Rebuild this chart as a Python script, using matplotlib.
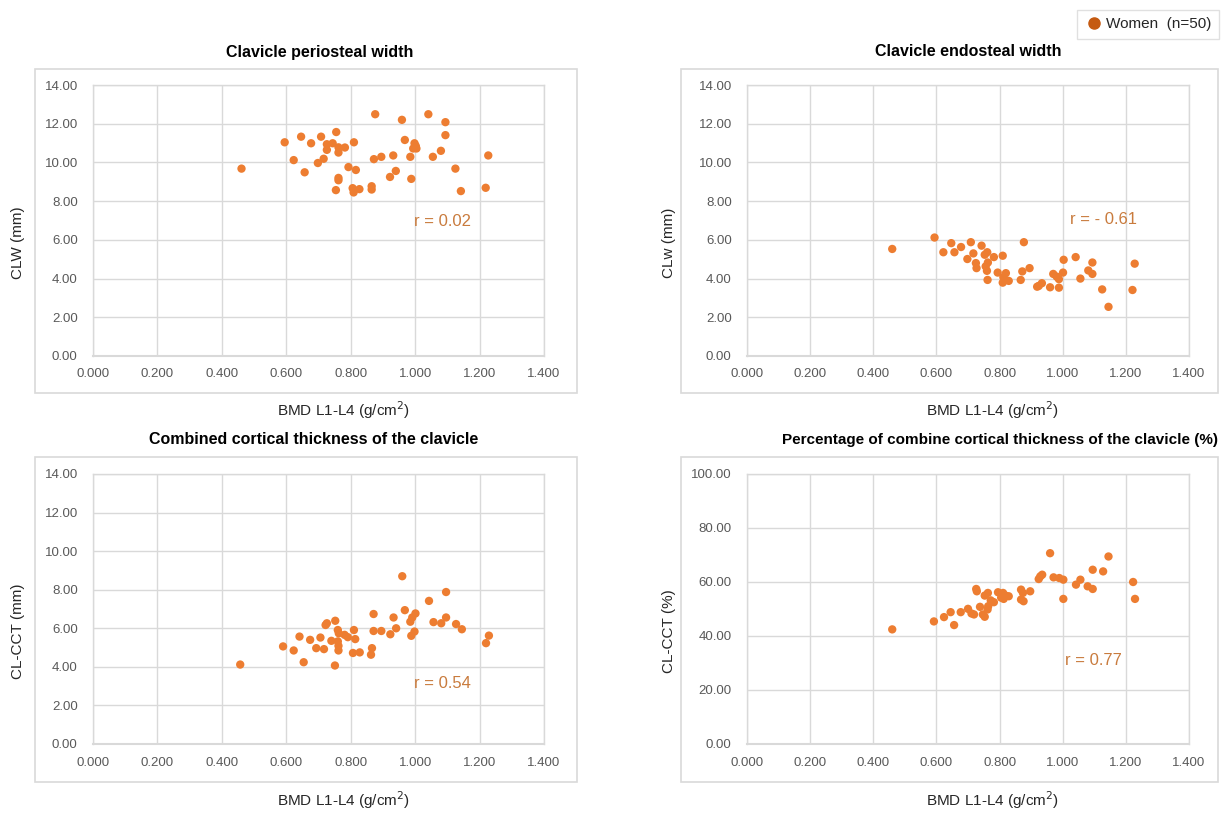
import matplotlib.pyplot as plt
from matplotlib.lines import Line2D
from matplotlib.patches import Rectangle

plt.rcParams['font.family'] = ['Liberation Sans', 'DejaVu Sans']

# BMD L1-L4 (g/cm2) vs clavicle measures
bmd_clw = [0.461, 0.595, 0.646, 0.623, 0.677, 0.657, 0.708, 0.698, 0.716, 0.726,
           0.726, 0.744, 0.755, 0.762, 0.762, 0.782, 0.810, 0.793, 0.816, 0.762,
           0.762, 0.754, 0.806, 0.809, 0.827, 0.865, 0.865, 0.876, 0.872, 0.895,
           0.922, 0.940, 0.932, 0.959, 0.968, 0.985, 0.988, 0.998, 0.994, 1.004,
           1.041, 1.055, 1.080, 1.094, 1.094, 1.125, 1.142, 1.219, 1.227, 1.002]
clw = [9.68, 11.04, 11.33, 10.12, 10.99, 9.49, 11.33, 9.97, 10.19, 10.94,
       10.65, 10.99, 11.57, 10.78, 10.51, 10.77, 11.04, 9.76, 9.61, 9.20,
       9.08, 8.57, 8.67, 8.45, 8.62, 8.77, 8.60, 12.49, 10.17, 10.29,
       9.25, 9.56, 10.36, 12.20, 11.16, 10.29, 9.15, 10.99, 10.72, 10.72,
       12.49, 10.29, 10.60, 12.08, 11.41, 9.68, 8.52, 8.69, 10.36, 10.85]

bmd_clew = [0.460, 0.594, 0.622, 0.647, 0.657, 0.678, 0.698, 0.709, 0.717, 0.725,
            0.727, 0.743, 0.753, 0.761, 0.756, 0.763, 0.760, 0.762, 0.782, 0.794,
            0.810, 0.812, 0.820, 0.810, 0.829, 0.867, 0.872, 0.877, 0.895, 0.924,
            0.934, 0.960, 0.970, 0.988, 0.988, 1.001, 1.003, 1.041, 1.056, 1.081,
            1.094, 1.094, 1.125, 1.145, 1.221, 1.228, 0.919, 0.981, 0.815]
clew = [5.53, 6.12, 5.36, 5.83, 5.36, 5.63, 5.01, 5.88, 5.30, 4.80,
        4.54, 5.70, 5.23, 5.36, 4.63, 4.83, 4.40, 3.93, 5.11, 4.31,
        5.18, 4.07, 4.28, 3.79, 3.88, 3.93, 4.37, 5.88, 4.54, 3.62,
        3.76, 3.55, 4.24, 3.97, 3.53, 4.31, 4.97, 5.11, 4.00, 4.42,
        4.83, 4.24, 3.44, 2.54, 3.41, 4.77, 3.58, 4.10, 3.90]

bmd_cct = [0.457, 0.590, 0.623, 0.641, 0.654, 0.674, 0.693, 0.706, 0.717, 0.722,
           0.726, 0.752, 0.740, 0.760, 0.763, 0.760, 0.762, 0.762, 0.751, 0.781,
           0.791, 0.810, 0.814, 0.807, 0.828, 0.866, 0.863, 0.871, 0.871, 0.895,
           0.923, 0.933, 0.941, 0.960, 0.968, 0.985, 0.991, 1.001, 0.988, 0.998,
           1.043, 1.057, 1.081, 1.096, 1.096, 1.127, 1.145, 1.220, 1.229]
cct = [4.12, 5.06, 4.85, 5.57, 4.24, 5.40, 4.97, 5.52, 4.92, 6.17,
       6.26, 6.39, 5.35, 5.91, 5.74, 5.32, 5.09, 4.85, 4.07, 5.66,
       5.54, 5.91, 5.44, 4.72, 4.75, 4.97, 4.63, 6.74, 5.86, 5.86,
       5.69, 6.56, 6.00, 8.70, 6.94, 6.34, 6.56, 6.77, 5.61, 5.83,
       7.42, 6.32, 6.26, 7.88, 6.56, 6.22, 5.95, 5.23, 5.62]

bmd_pct = [0.460, 0.592, 0.624, 0.645, 0.656, 0.677, 0.700, 0.711, 0.719, 0.726,
           0.728, 0.747, 0.753, 0.753, 0.763, 0.764, 0.762, 0.782, 0.795, 0.811,
           0.813, 0.819, 0.829, 0.868, 0.874, 0.868, 0.876, 0.897, 0.924, 0.935,
           0.929, 0.960, 0.971, 0.989, 1.002, 1.002, 1.042, 1.056, 1.079, 1.095,
           1.095, 1.128, 1.145, 1.223, 1.229, 0.805, 0.772, 0.738]
pct = [42.45, 45.40, 47.00, 48.83, 44.05, 48.83, 50.06, 48.34, 47.98, 57.42,
       56.56, 47.98, 47.12, 54.97, 55.95, 51.04, 49.82, 52.52, 56.20, 55.95,
       53.74, 54.97, 54.72, 57.18, 55.95, 53.50, 52.88, 56.56, 61.10, 62.70,
       62.09, 70.67, 61.72, 61.47, 60.86, 53.74, 59.02, 60.86, 58.40, 57.42,
       64.54, 63.93, 69.45, 60.00, 53.74, 54.20, 53.20, 50.80]

titles = ['Clavicle periosteal width', 'Clavicle endosteal width',
          'Combined cortical thickness of the clavicle',
          'Percentage of combine cortical thickness of the clavicle (%)']
ylabels = ['CLW (mm)', 'CLw (mm)', 'CL-CCT (mm)', 'CL-CCT (%)']
r_texts = ['r = 0.02', 'r = - 0.61', 'r = 0.54', 'r = 0.77']
xticks = [0.0, 0.2, 0.4, 0.6, 0.8, 1.0, 1.2, 1.4]

W, H = 1227, 814
fig = plt.figure(figsize=(W / 100, H / 100), dpi=100)

def rect(l, t, r, b):
    return [l / W, 1 - b / H, (r - l) / W, (b - t) / H]

dot = '#ED7D31'
grid = '#D9D9D9'
tick_col = '#595959'

panels = [
    # plot area, chart box, title (x, y), r-text position
    ((93, 85, 544, 356), (35, 69, 577, 393), (320, 52), (0.998, 6.7)),
    ((747, 85, 1189, 356), (681, 69, 1218, 393), (968, 52), (1.023, 6.8)),
    ((93, 474, 544, 744), (35, 457, 577, 782), (314, 440), (0.998, 2.9)),
    ((747, 474, 1189, 744), (681, 457, 1218, 782), (1000, 440), (1.007, 29.3)),
]
series = [(bmd_clw, clw), (bmd_clew, clew), (bmd_cct, cct), (bmd_pct, pct)]

for i, (area, box, tpos, rpos) in enumerate(panels):
    # light frame around each chart
    fig.patches.append(Rectangle((box[0] / W, 1 - box[3] / H), (box[2] - box[0]) / W,
                                 (box[3] - box[1]) / H, transform=fig.transFigure,
                                 fill=False, edgecolor=grid, lw=1.2, zorder=0))
    ax = fig.add_axes(rect(*area))
    x, y = series[i]
    ax.scatter(x, y, s=36, color=dot, edgecolors='none', zorder=3)
    ax.set_xlim(0, 1.4)
    ax.set_xticks(xticks)
    ax.set_xticklabels(['%.3f' % v for v in xticks])
    if i == 3:
        yt = [0, 20, 40, 60, 80, 100]
    else:
        yt = [0, 2, 4, 6, 8, 10, 12, 14]
    ax.set_ylim(0, yt[-1])
    ax.set_yticks(yt)
    ax.set_yticklabels(['%.2f' % v for v in yt])
    ax.grid(True, color=grid, lw=1.0)
    ax.set_axisbelow(True)
    for s in ax.spines.values():
        s.set_color(grid)
        s.set_linewidth(1.0)
    ax.spines['bottom'].set_linewidth(1.5)
    ax.tick_params(length=0, labelsize=9.5, colors=tick_col)
    ax.tick_params(axis='y', pad=11)
    ax.tick_params(axis='x', pad=9)
    ax.text(rpos[0], rpos[1], r_texts[i], fontsize=12, color='#C97B3D')

    cx = (area[0] + area[2]) / 2
    fig.text(tpos[0] / W, 1 - tpos[1] / H, titles[i], ha='center', va='center',
             fontsize=11 if i == 3 else 11.5, fontweight='bold', color='black')
    yb = 410 if i < 2 else 800
    fig.text((cx + 25) / W, 1 - yb / H, 'BMD L1-L4 (g/cm$^2$)', ha='center',
             va='center', fontsize=11, color='#262626')
    ylx = 18 if i in (0, 2) else 669
    fig.text(ylx / W, 1 - ((area[1] + area[3]) / 2 + 22) / H, ylabels[i],
             rotation=90, ha='center', va='center', fontsize=11, color='#262626')

handle = Line2D([], [], marker='o', ls='none', color='#C55A11', markersize=8)
fig.legend([handle], ['Women  (n=50)'], loc='upper right',
           bbox_to_anchor=(1.0, 1 - 2 / H), fontsize=11, frameon=True,
           fancybox=False, edgecolor=grid, handletextpad=0.2, borderpad=0.5,
           handlelength=1.2, labelcolor='#262626')

fig.savefig('out.png', dpi=100, facecolor='white')
